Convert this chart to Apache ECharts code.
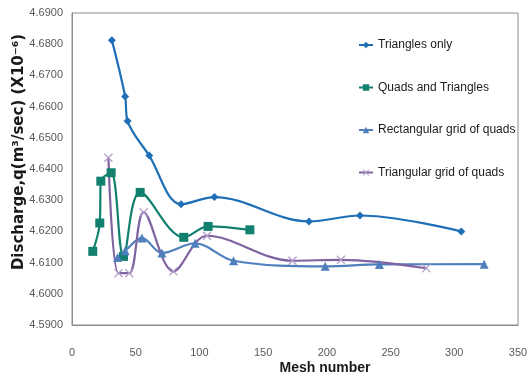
<!DOCTYPE html>
<html><head><meta charset="utf-8">
<script src="https://cdn.jsdelivr.net/npm/echarts@6/dist/echarts.min.js"></script>
<style>html,body{margin:0;padding:0;background:#fff}#c{width:528px;height:378px}</style>
</head><body><div id="c"></div>
<script>
var seriesNames = ["Triangles only", "Quads and Triangles", "Rectangular grid of quads", "Triangular grid of quads"];
var trianglesOnly = [[31.3,4.6813],[41.7,4.6632],[43.6,4.6554],[60.6,4.6443],[85.6,4.6287],[111.8,4.6310],[186,4.6232],[226,4.6251],[305.5,4.6200]];
var quadsAndTriangles = [[16.3,4.6136],[21.8,4.6227],[22.6,4.6361],[30.7,4.6388],[40.4,4.6120],[53.5,4.6325],[87.7,4.6181],[106.8,4.6216],[139.6,4.6205]];
var rectangularGrid = [[35.8,4.6116],[41.7,4.6138],[54.9,4.6179],[70.6,4.6131],[96.6,4.6162],[126.8,4.6106],[198.7,4.6088],[241.2,4.6094],[323.4,4.6095]];
var triangularGrid = [[28.6,4.6436],[36.5,4.6066],[44.9,4.6066],[56.2,4.6261],[79.6,4.6072],[106,4.6186],[173,4.6106],[211,4.6109],[278,4.6082]];
var xTicks = {min:0, max:350, interval:50};
var yTicks = {min:4.59, max:4.69, interval:0.01};

var colors = ["#1F6FB7", "#12806E", "#4F7FBD", "#7F62A0"];
var xPath = 'path://M0,1L1,0L5,4L9,0L10,1L6,5L10,9L9,10L5,6L1,10L0,9L4,5Z';
var symbols = ['diamond', 'rect', 'triangle', xPath];
var sizes = [8, 9, 9, 9];
var datas = [trianglesOnly, quadsAndTriangles, rectangularGrid, triangularGrid];
var lab = {fontFamily:'Liberation Sans, Arial, sans-serif', fontSize:11, color:'#595959'};

var chart = echarts.init(document.getElementById('c'), null, {renderer:'canvas'});
chart.setOption({
  animation:false,
  grid:{left:72, right:10, top:13, bottom:53, show:true, borderColor:'#8c8c8c', borderWidth:1, containLabel:false, outerBoundsMode:'none'},
  legend:{
    orient:'vertical', left:353, top:34, itemGap:30.5, itemWidth:14, itemHeight:8,
    data: seriesNames,
    textStyle:{fontFamily:'Liberation Sans, Arial, sans-serif', fontSize:12, color:'#1a1a1a'}
  },
  xAxis:{
    type:'value', min:xTicks.min, max:xTicks.max, interval:xTicks.interval,
    splitLine:{show:false},
    axisLine:{lineStyle:{color:'#8c8c8c'}},
    axisTick:{show:false},
    axisLabel:Object.assign({margin:22}, lab),
    name:'Mesh number', nameLocation:'middle', nameGap:36, nameMoveOverlap:false,
    nameTextStyle:{fontFamily:'Liberation Sans, Arial, sans-serif', fontSize:14, fontWeight:'bold', color:'#1a1a1a', padding:[0,0,0,60]}
  },
  yAxis:{
    type:'value', min:yTicks.min, max:yTicks.max, interval:yTicks.interval,
    splitLine:{show:false},
    axisLine:{show:true, lineStyle:{color:'#8c8c8c'}},
    axisTick:{show:false},
    axisLabel:Object.assign({margin:9, formatter:function(v){return v.toFixed(4);}}, lab),
    name:'Discharge,q(m³/sec) (X10⁻⁶)', nameLocation:'middle', nameGap:45, nameMoveOverlap:false,
    nameTextStyle:{fontFamily:'DejaVu Sans, sans-serif', fontSize:15, fontWeight:'bold', color:'#1a1a1a', padding:[0,0,0,34]}
  },
  series: seriesNames.map(function(n,i){
    return {
      name:n, type:'line', data:datas[i], smooth:0.35,
      symbol:symbols[i], symbolSize:sizes[i],
      color:colors[i],
      lineStyle:{width:2.2, color:colors[i]},
      itemStyle:{color: i===3 ? '#B49FCC' : colors[i]}
    };
  })
});
</script></body></html>
